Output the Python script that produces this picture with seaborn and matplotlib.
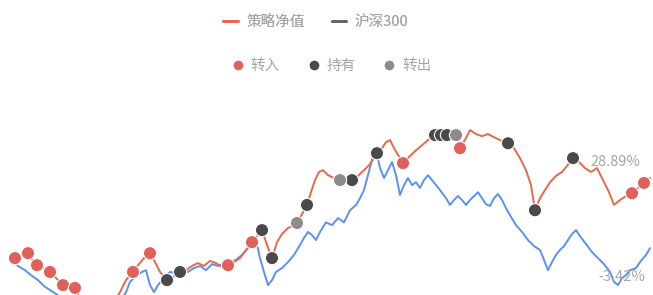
import pandas as pd
import matplotlib
matplotlib.use("Agg")
import matplotlib.pyplot as plt
from matplotlib.lines import Line2D
import seaborn as sns

# Datos (dia de negociacion, rendimiento %)
dias_estrategia = [10, 15, 21, 28, 33, 37, 43, 50, 56, 63, 69, 75, 80, 88, 96, 104, 112, 120, 126,
                   133, 138, 144, 150, 155, 160, 167, 174, 180, 186, 192, 198, 204, 210, 216, 222,
                   228, 234, 240, 246, 252, 257, 262, 267, 272, 277, 282, 288, 292, 297, 302, 307,
                   311, 315, 319, 323, 328, 334, 340, 346, 352, 358, 364, 370, 377, 382, 386, 390,
                   395, 403, 409, 415, 421, 428, 435, 441, 447, 453, 456, 460, 466, 470, 476, 482,
                   488, 494, 500, 508, 514, 520, 526, 531, 535, 540, 545, 550, 556, 562, 567, 573,
                   579, 585, 591, 597, 603, 609, 614, 620, 626, 632, 638, 644, 650]
estrategia = [2.4, 1.8, 2.7, 3.2, 1.0, -0.2, -1.0, -2.1, -3.8, -5.8, -6.4, -6.6, -9.5, -11.4, -12.8,
              -12.8, -11.4, -7.8, -4.4, -2.1, -0.2, 1.8, 3.2, 0.7, -2.1, -4.4, -3.3, -2.1, -1.6,
              -0.4, 0.4, -0.4, 1.0, 0.4, -0.7, -0.2, 0.7, 1.8, 4.1, 6.3, 8.0, 9.7, 5.5, 1.8, 6.3,
              8.6, 10.3, 10.8, 11.7, 14.2, 16.8, 20.4, 23.8, 26.1, 26.6, 25.2, 24.4, 23.8, 23.0,
              23.8, 25.0, 26.6, 28.3, 31.4, 32.8, 34.5, 35.1, 32.3, 28.6, 30.3, 32.0, 33.4, 35.1,
              36.5, 36.5, 36.5, 35.9, 36.5, 32.8, 35.7, 37.9, 36.8, 36.2, 36.8, 35.9, 35.1, 34.2,
              32.8, 30.0, 26.6, 22.4, 15.3, 18.7, 21.0, 23.2, 25.0, 26.1, 27.8, 30.0, 28.9, 27.2,
              26.1, 27.2, 23.8, 20.4, 16.8, 18.2, 19.3, 20.1, 21.6, 23.0, 24.4]

dias_hs300 = [10, 14, 18, 25, 31, 38, 44, 50, 56, 62, 70, 80, 90, 100, 110, 120, 126, 130, 136, 142,
              146, 150, 154, 158, 164, 170, 176, 182, 188, 194, 200, 206, 212, 218, 224, 230, 236,
              242, 248, 252, 256, 260, 264, 268, 272, 276, 282, 288, 294, 300, 304, 308, 312, 316,
              320, 326, 332, 338, 344, 350, 356, 360, 364, 368, 372, 376, 380, 384, 388, 392, 396,
              400, 404, 408, 412, 416, 420, 424, 428, 432, 436, 440, 446, 450, 454, 458, 462, 466,
              470, 474, 478, 482, 486, 490, 494, 498, 502, 506, 510, 516, 522, 528, 534, 540, 544,
              548, 552, 556, 560, 564, 568, 572, 576, 580, 586, 592, 598, 604, 610, 614, 618, 622,
              626, 630, 636, 640, 646, 650]
hs300 = [1.3, 0.7, -0.4, -1.6, -3.0, -4.4, -6.1, -7.2, -8.3, -9.5, -11.4, -13.4, -15.1, -15.1,
         -13.4, -10.6, -7.8, -4.9, -3.3, -2.1, -1.6, -5.8, -7.8, -5.8, -3.8, -2.1, -2.4, -1.6,
         -2.1, -1.0, -0.4, -1.6, 0.1, -0.4, 0.4, 0.7, 1.3, 2.7, 4.6, 5.5, 6.9, 1.8, -2.1, -5.8,
         -4.4, -2.1, -1.0, 0.7, 2.7, 5.5, 7.5, 9.2, 8.3, 6.9, 9.2, 11.9, 11.1, 13.1, 11.9, 15.3,
         16.8, 18.7, 21.0, 25.2, 29.5, 32.3, 27.2, 24.4, 26.6, 28.9, 25.2, 19.6, 22.4, 24.4, 22.4,
         23.2, 21.6, 23.8, 25.2, 23.8, 22.4, 21.0, 18.7, 16.8, 18.2, 19.3, 18.2, 16.8, 18.2, 19.3,
         20.4, 18.7, 17.0, 16.5, 18.7, 19.9, 18.2, 15.9, 13.9, 11.1, 9.2, 6.9, 5.2, 4.1, 1.3,
         -1.6, 0.7, 2.7, 4.1, 5.2, 6.9, 8.6, 9.7, 8.0, 5.8, 3.5, 1.8, 0.1, -2.1, -4.9, -5.8,
         -3.8, -3.0, -1.6, -1.0, 0.7, 2.7, 4.6]

# Senales de operacion (dias sobre la curva de la estrategia)
dias_entrada = [15, 28, 37, 50, 63, 75, 133, 150, 228, 252, 403, 460, 632, 644]
dias_mantener = [167, 180, 262, 272, 307, 352, 377, 435, 441, 447, 508, 535, 573]
dias_salida = [297, 340, 456]

etiqueta_estrategia = "28.89%"
etiqueta_hs300 = "-3.42%"
valor_final_estrategia = 28.89
valor_final_hs300 = -3.42

ROJO = "#e8684a"
AZUL = "#5b8ff9"
OSCURO = "#4a4a4a"
GRIS = "#8c8c8c"
TEXTO = "#a6a6a6"

sns.set_style("white")
plt.rcParams["font.family"] = ["Noto Sans CJK SC", "DejaVu Sans"]

df_est = pd.DataFrame({"dia": dias_estrategia, "valor": estrategia})
df_hs = pd.DataFrame({"dia": dias_hs300, "valor": hs300})
serie = df_est.set_index("dia")["valor"]

senales = pd.concat([
    pd.DataFrame({"dia": dias_entrada, "tipo": "转入"}),
    pd.DataFrame({"dia": dias_mantener, "tipo": "持有"}),
    pd.DataFrame({"dia": dias_salida, "tipo": "转出"}),
])
senales["valor"] = senales["dia"].map(serie)

fig = plt.figure(figsize=(6.53, 2.95), dpi=100)
ax = fig.add_axes([0, 0, 1, 1])

sns.lineplot(data=df_hs, x="dia", y="valor", ax=ax, color=AZUL, linewidth=1.4)
sns.lineplot(data=df_est, x="dia", y="valor", ax=ax, color=ROJO, linewidth=1.4)
sns.scatterplot(data=senales, x="dia", y="valor", hue="tipo", ax=ax,
                palette={"转入": "#e0605a", "持有": OSCURO, "转出": GRIS},
                s=90, edgecolor="white", linewidth=0.8, legend=False, zorder=5)

ax.text(590, valor_final_estrategia, etiqueta_estrategia, color=TEXTO, fontsize=10.5, va="center")
ax.text(598, valor_final_hs300, etiqueta_hs300, color=TEXTO, fontsize=10.5, va="center")

ax.set_xlim(0, 653)
ax.set_ylim(-8.6, 74.6)
ax.axis("off")

# Leyendas
h1 = [Line2D([0], [0], color=ROJO, lw=2), Line2D([0], [0], color="#666666", lw=2)]
leg1 = fig.legend(h1, ["策略净值", "沪深300"], loc="center", bbox_to_anchor=(0.484, 0.925),
                  ncol=2, frameon=False, fontsize=10.5, handlelength=1.0, handletextpad=0.6,
                  columnspacing=1.8, labelcolor=TEXTO)
h2 = [Line2D([0], [0], marker="o", ls="", color=c, markersize=8, markeredgecolor="white")
      for c in ["#e0605a", OSCURO, GRIS]]
fig.legend(h2, ["转入", "持有", "转出"], loc="center", bbox_to_anchor=(0.507, 0.776),
           ncol=3, frameon=False, fontsize=10.5, handlelength=1.0, handletextpad=0.4,
           columnspacing=1.8, labelcolor=TEXTO)
fig.add_artist(leg1)

fig.savefig("out.png", dpi=100)
